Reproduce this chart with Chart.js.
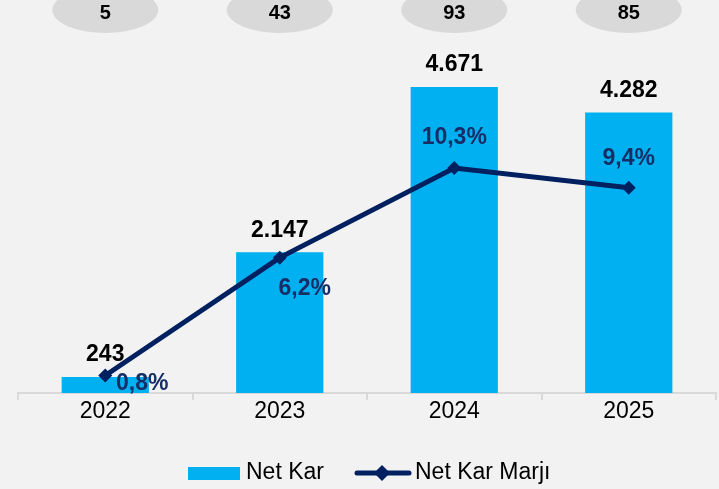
<!DOCTYPE html>
<html>
<head>
<meta charset="utf-8">
<script src="https://cdn.jsdelivr.net/npm/chart.js@4.4.1/dist/chart.umd.min.js"></script>
<style>
    body { margin: 0; background: #f2f2f2; }
    #wrap { width: 719px; height: 489px; }
</style>
</head>
<body>
<div id="wrap"><canvas id="myChart" width="719" height="489"></canvas></div>
<script>
let years = ['2022', '2023', '2024', '2025'];
let netKar = [243, 2147, 4671, 4282];
let netKarMarji = [0.8, 6.2, 10.3, 9.4];
let topValues = [5, 43, 93, 85];
// where the % labels sit relative to their point (dx, dy)
let marjiLabelOffsets = [[37, 8], [25, 31], [0, -30], [0, -29]];

const FONT = "'Liberation Sans', Arial, sans-serif";
const BLUE = '#00b0f0';
const NAVY = '#002060';

function formatThousands(value) {
    return value.toString().replace(/\B(?=(\d{3})+(?!\d))/g, '.');
}

function formatPercent(value) {
    return value.toFixed(1).replace('.', ',') + '%';
}

const extrasPlugin = {
    id: 'extras',
    beforeDraw(chart) {
        let ctx = chart.ctx;
        ctx.save();
        ctx.fillStyle = '#f2f2f2';
        ctx.fillRect(0, 0, chart.width, chart.height);
        ctx.restore();
    },
    afterDatasetsDraw(chart) {
        let ctx = chart.ctx;
        let xScale = chart.scales.x;
        ctx.save();

        // grey ovals on top
        for (let i = 0; i < topValues.length; i++) {
            let x = xScale.getPixelForValue(i);
            ctx.fillStyle = '#d9d9d9';
            ctx.beginPath();
            ctx.ellipse(x, 10, 53, 23, 0, 0, Math.PI * 2);
            ctx.fill();
            ctx.fillStyle = '#000';
            ctx.font = 'bold 20px ' + FONT;
            ctx.textAlign = 'center';
            ctx.textBaseline = 'middle';
            ctx.fillText(topValues[i], x, 13);
        }

        // bar labels
        let barMeta = chart.getDatasetMeta(0);
        ctx.font = 'bold 23px ' + FONT;
        ctx.fillStyle = '#000';
        ctx.textAlign = 'center';
        ctx.textBaseline = 'middle';
        barMeta.data.forEach((bar, i) => {
            ctx.fillText(formatThousands(netKar[i]), bar.x, bar.y - 22);
        });

        // margin labels
        let lineMeta = chart.getDatasetMeta(1);
        ctx.fillStyle = '#172d66';
        lineMeta.data.forEach((pt, i) => {
            let off = marjiLabelOffsets[i];
            ctx.fillText(formatPercent(netKarMarji[i]), pt.x + off[0], pt.y + off[1]);
        });

        // legend
        let ly = 473;
        ctx.fillStyle = BLUE;
        ctx.fillRect(188, 467, 52, 13);
        ctx.fillStyle = '#000';
        ctx.font = '23px ' + FONT;
        ctx.textAlign = 'left';
        ctx.fillText('Net Kar', 246, ly);

        ctx.strokeStyle = NAVY;
        ctx.lineWidth = 5;
        ctx.lineCap = 'round';
        ctx.beginPath();
        ctx.moveTo(357, ly);
        ctx.lineTo(409, ly);
        ctx.stroke();
        ctx.fillStyle = NAVY;
        ctx.beginPath();
        ctx.moveTo(382, ly - 8);
        ctx.lineTo(390, ly);
        ctx.lineTo(382, ly + 8);
        ctx.lineTo(374, ly);
        ctx.closePath();
        ctx.fill();
        ctx.fillStyle = '#000';
        ctx.fillText('Net Kar Marjı', 415, ly);

        ctx.restore();
    }
};

const ctx = document.getElementById('myChart').getContext('2d');
const myChart = new Chart(ctx, {
    type: 'bar',
    data: {
        labels: years,
        datasets: [{
            label: 'Net Kar',
            data: netKar,
            backgroundColor: BLUE,
            categoryPercentage: 1,
            barPercentage: 0.5,
            yAxisID: 'y',
            order: 1
        }, {
            type: 'line',
            label: 'Net Kar Marjı',
            data: netKarMarji,
            borderColor: NAVY,
            backgroundColor: NAVY,
            borderWidth: 5,
            tension: 0,
            pointStyle: 'rectRot',
            pointRadius: 7,
            pointBackgroundColor: NAVY,
            pointBorderWidth: 0,
            yAxisID: 'y2',
            order: 0
        }]
    },
    options: {
        responsive: false,
        animation: false,
        devicePixelRatio: 1,
        layout: {
            autoPadding: false,
            padding: { left: 18, right: 3, top: 0, bottom: 66 }
        },
        plugins: {
            legend: { display: false },
            tooltip: { enabled: false }
        },
        scales: {
            x: {
                offset: true,
                border: { display: true, color: '#d9d9d9', width: 2 },
                grid: {
                    display: true,
                    drawOnChartArea: false,
                    drawTicks: true,
                    tickLength: 7,
                    color: '#d9d9d9',
                    lineWidth: 2,
                    offset: true
                },
                ticks: {
                    color: '#000',
                    padding: 0,
                    font: { family: FONT, size: 23, lineHeight: 1 }
                }
            },
            y: {
                display: false,
                min: 0,
                max: 6000
            },
            y2: {
                display: false,
                min: 0,
                max: 18
            }
        }
    },
    plugins: [extrasPlugin]
});
</script>
</body>
</html>
